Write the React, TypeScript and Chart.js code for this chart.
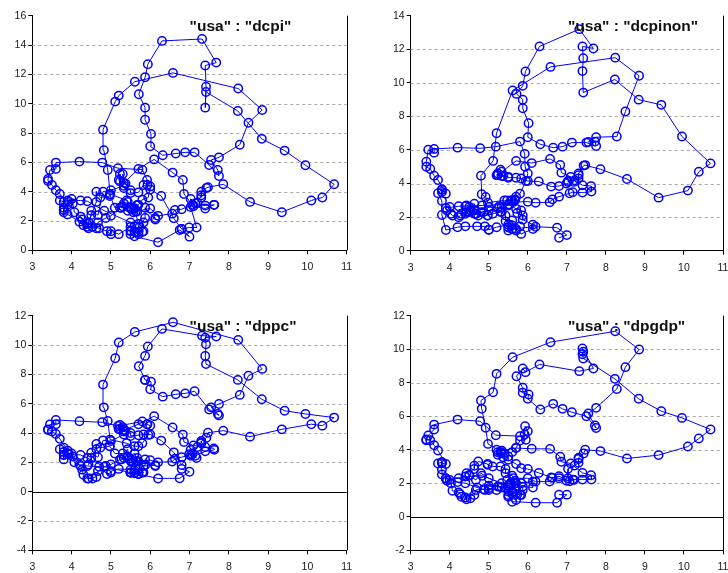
import React, { useEffect, useRef } from "react";
import { Chart, registerables } from "chart.js";

Chart.register(...registerables);
Chart.defaults.font.family = '"Liberation Sans", Arial, Helvetica, sans-serif';

// Quarterly observations, 1961Q1 .. 2008Q2 (unemployment rate, x axis)
const unemployment = [
  6.8, 7.0, 6.75, 6.2,
  5.6, 5.5, 5.6, 5.5,
  5.8, 5.7, 5.5, 5.6,
  5.5, 5.2, 5.0, 5.0,
  4.9, 4.7, 4.4, 4.2,
  3.9, 3.8, 3.8, 3.7,
  3.8, 3.8, 3.8, 3.9,
  3.7, 3.6, 3.5, 3.4,
  3.4, 3.45, 3.6, 3.6,
  4.2, 4.78, 5.18, 5.8,
  5.92, 5.93, 6.0, 5.95,
  5.8, 5.7, 5.6, 5.4,
  4.98, 4.92, 4.82, 4.8,
  5.11, 5.2, 5.61, 6.58,
  8.24, 8.85, 8.5, 8.28,
  7.75, 7.55, 7.72, 7.75,
  7.5, 7.13, 6.89, 6.65,
  6.32, 6.0, 6.02, 5.87,
  5.87, 5.71, 5.87, 5.94,
  6.3, 7.32, 7.68, 7.4,
  7.42, 7.4, 7.42, 8.23,
  8.84, 9.42, 9.95, 10.68,
  10.38, 10.1, 9.35, 8.54,
  7.86, 7.47, 7.43, 7.3,
  7.3, 7.3, 7.2, 7.03,
  7.03, 7.18, 6.99, 6.8,
  6.6, 6.28, 6.0, 5.83,
  5.7, 5.5, 5.5, 5.33,
  5.2, 5.23, 5.23, 5.37,
  5.3, 5.33, 5.7, 6.1,
  6.57, 6.83, 6.86, 7.1,
  7.4, 7.62, 7.63, 7.4,
  7.15, 7.07, 6.8, 6.63,
  6.56, 6.2, 6.0, 5.63,
  5.47, 5.67, 5.67, 5.57,
  5.53, 5.5, 5.27, 5.33,
  5.23, 5.0, 4.87, 4.67,
  4.63, 4.4, 4.53, 4.43,
  4.3, 4.27, 4.23, 4.07,
  4.03, 3.93, 4.0, 3.9,
  4.23, 4.4, 4.83, 5.5,
  5.7, 5.83, 5.73, 5.87,
  5.87, 6.13, 6.13, 5.83,
  5.7, 5.6, 5.43, 5.43,
  5.3, 5.1, 4.97, 4.97,
  4.73, 4.63, 4.63, 4.43,
  4.5, 4.5, 4.67, 4.8,
  5.0, 5.33,
];

const dcpi = [
  1.45, 0.93, 1.38, 0.55,
  0.95, 1.1, 1.25, 1.3,
  1.25, 1.1, 1.35, 1.65,
  1.6, 1.1, 1.3, 1.1,
  1.3, 1.5, 1.8, 1.95,
  2.45, 2.75, 3.3, 3.4,
  2.9, 2.6, 2.75, 3.1,
  3.84, 4.1, 4.45, 4.73,
  4.86, 5.48, 5.55, 5.98,
  6.05, 5.98, 5.6, 5.5,
  4.8, 4.45, 4.35, 3.6,
  3.45, 3.1, 2.85, 3.4,
  3.84, 5.48, 6.82, 8.23,
  10.14, 10.55, 11.5, 12.1,
  11.03, 9.57, 8.7, 7.2,
  6.34, 6.16, 5.48, 5.07,
  5.82, 6.68, 6.68, 6.6,
  6.48, 7.1, 7.94, 8.9,
  9.73, 10.64, 11.8, 12.69,
  14.28, 14.41, 12.8, 12.6,
  11.16, 9.73, 10.8, 9.5,
  7.6, 6.8, 5.8, 4.5,
  3.6, 3.4, 2.6, 3.3,
  4.5, 4.3, 4.25, 4.0,
  3.6, 3.75, 3.25, 3.5,
  2.95, 1.55, 1.55, 1.45,
  2.18, 3.7, 4.15, 4.45,
  3.95, 3.9, 4.1, 4.25,
  4.8, 5.2, 4.7, 4.55,
  5.2, 4.6, 5.55, 6.2,
  5.3, 4.8, 3.84, 3.0,
  2.85, 3.1, 3.1, 3.05,
  3.2, 3.1, 2.8, 2.75,
  2.5, 2.35, 2.85, 2.65,
  2.9, 3.1, 2.65, 2.6,
  2.8, 2.9, 2.9, 3.2,
  2.9, 2.35, 2.2, 1.9,
  1.5, 1.6, 1.6, 1.5,
  1.7, 2.1, 2.3, 2.6,
  3.2, 3.3, 3.5, 3.4,
  3.4, 3.35, 2.7, 1.9,
  1.25, 1.3, 1.6, 2.2,
  2.9, 2.1, 2.2, 1.9,
  1.8, 2.85, 2.7, 3.3,
  3.0, 2.9, 3.8, 3.7,
  3.6, 4.0, 3.3, 1.9,
  2.4, 2.7, 2.4, 4.0,
  4.1, 4.4,
];

const dcpinon = [
  0.77, 0.93, 1.37, 1.43,
  1.3, 1.2, 1.3, 1.4,
  1.45, 1.3, 1.4, 1.5,
  1.55, 1.4, 1.25, 1.25,
  1.45, 1.45, 1.45, 1.4,
  1.23, 2.13, 2.96, 3.42,
  3.66, 3.5, 3.62, 3.4,
  4.21, 4.47, 4.87, 5.0,
  5.3, 6.02, 5.84, 6.06,
  6.14, 6.1, 6.2, 6.5,
  5.77, 5.0, 4.6, 4.15,
  3.4, 3.22, 3.0, 3.0,
  2.86, 3.2, 3.36, 4.47,
  5.35, 7.0, 9.55, 10.95,
  11.5, 10.42, 8.29, 6.8,
  6.76, 6.48, 6.5, 6.24,
  6.44, 6.44, 6.2, 6.14,
  6.34, 6.76, 7.6, 8.49,
  9.0, 9.34, 9.82, 10.68,
  12.17, 13.2, 12.05, 12.17,
  11.47, 10.7, 9.42, 10.2,
  9.0, 8.69, 6.8, 5.2,
  4.7, 3.58, 3.16, 4.27,
  4.85, 5.1, 5.07, 4.6,
  4.5, 4.3, 4.2, 4.1,
  4.15, 4.1, 4.0, 3.85,
  3.82, 4.12, 4.15, 4.3,
  4.35, 4.35, 4.4, 4.45,
  4.5, 4.6, 4.5, 4.45,
  4.82, 4.7, 5.35, 5.22,
  5.47, 5.11, 4.65, 4.4,
  3.9, 3.85, 3.52, 3.46,
  3.48, 3.42, 3.22, 3.06,
  2.88, 2.86, 2.92, 2.9,
  3.0, 3.05, 3.0, 3.0,
  2.75, 2.7, 2.65, 2.6,
  2.55, 2.6, 2.3, 2.2,
  2.2, 2.2, 2.4, 2.3,
  2.2, 2.1, 2.0, 2.1,
  2.2, 2.4, 2.6, 2.55,
  2.65, 2.65, 2.7, 2.75,
  2.5, 2.4, 2.25, 2.1,
  1.85, 1.55, 1.3, 1.0,
  1.2, 1.8, 1.75, 2.1,
  2.3, 2.2, 2.1, 2.1,
  2.1, 2.4, 2.8, 2.7,
  2.6, 2.3, 2.2, 2.3,
  2.4, 2.3,
];

const dppc = [
  1.55, 1.36, 0.91, 0.9,
  1.25, 1.3, 1.3, 1.3,
  1.3, 1.2, 1.3, 1.45,
  1.5, 1.55, 1.4, 1.3,
  1.2, 1.7, 1.75, 1.85,
  2.6, 2.7, 3.0, 2.9,
  2.5, 2.2, 2.5, 2.8,
  3.6, 3.93, 4.1, 4.25,
  4.2, 4.59, 4.6, 4.89,
  4.8, 4.73, 4.48, 4.78,
  4.6, 4.6, 4.5, 3.87,
  3.3, 3.1, 3.1, 3.3,
  3.55, 4.82, 5.75, 7.3,
  9.1, 10.17, 10.89, 11.55,
  10.35, 8.37, 7.9, 6.6,
  5.98, 5.75, 5.3, 5.2,
  5.6, 6.85, 6.7, 6.64,
  6.48, 6.98, 7.5, 7.62,
  7.62, 8.55, 9.26, 9.9,
  11.1, 10.64, 10.58, 10.5,
  10.05, 9.26, 8.7, 7.62,
  6.3, 5.52, 5.3, 5.05,
  4.5, 4.6, 4.25, 3.75,
  4.16, 4.02, 3.68, 3.45,
  3.35, 3.3, 3.05, 2.85,
  2.45, 2.3, 2.55, 1.82,
  2.68, 3.48, 3.9, 3.9,
  3.85, 3.8, 4.0, 4.1,
  4.25, 4.55, 4.3, 4.15,
  4.4, 4.2, 4.6, 5.15,
  4.38, 3.89, 3.39, 3.15,
  3.05, 2.95, 2.85, 2.75,
  2.45, 2.55, 2.35, 2.25,
  2.05, 2.0, 2.15, 2.1,
  2.25, 2.3, 2.1, 2.0,
  2.0, 2.1, 2.2, 2.3,
  2.2, 1.85, 1.75, 1.4,
  1.0, 0.9, 0.9, 0.9,
  1.15, 1.5, 1.75, 2.0,
  2.4, 2.55, 2.6, 2.6,
  2.5, 2.3, 1.7, 1.3,
  1.2, 1.3, 1.6, 1.8,
  2.2, 1.75, 1.8, 1.75,
  2.05, 2.6, 2.4, 2.9,
  2.6, 2.6, 3.1, 3.1,
  3.0, 3.25, 2.9, 1.85,
  2.3, 2.65, 2.35, 3.5,
  3.45, 3.9,
];

const dpgdp = [
  1.32, 1.32, 0.84, 0.84,
  0.9, 1.3, 1.4, 1.6,
  1.3, 1.0, 1.2, 1.5,
  1.5, 1.6, 1.7, 1.6,
  1.6, 1.75, 2.0, 2.07,
  2.27, 2.52, 2.82, 3.18,
  3.26, 3.26, 3.2, 3.15,
  3.96, 4.27, 4.57, 4.61,
  4.57, 4.85, 5.21, 5.5,
  5.8, 5.7, 4.87, 4.81,
  4.91, 5.4, 5.1, 4.6,
  4.55, 4.12, 3.86, 3.75,
  4.35, 5.31, 6.44, 6.94,
  7.43, 8.53, 9.52, 10.42,
  11.07, 9.98, 8.93, 7.63,
  6.5, 6.16, 5.45, 5.3,
  6.0, 6.24, 6.44, 6.74,
  6.4, 7.04, 7.3, 7.4,
  7.7, 8.39, 8.85, 8.63,
  9.09, 8.69, 8.85, 10.05,
  9.85, 9.7, 9.45, 8.23,
  7.04, 6.3, 5.9, 5.21,
  4.67, 4.19, 3.68, 3.48,
  3.92, 4.0, 3.78, 3.52,
  3.45, 3.22, 3.06, 2.86,
  2.3, 2.2, 2.15, 2.3,
  2.35, 2.62, 2.85, 2.9,
  3.15, 3.4, 3.6, 3.85,
  4.0, 3.85, 3.7, 3.55,
  3.8, 3.95, 4.1, 4.06,
  4.05, 3.58, 3.28, 3.18,
  2.62, 2.48, 2.22, 2.22,
  2.22, 2.12, 2.42, 2.32,
  2.1, 2.1, 2.3, 2.3,
  2.2, 2.15, 2.0, 1.9,
  1.95, 1.85, 1.8, 1.75,
  1.8, 1.85, 1.65, 1.6,
  1.3, 1.15, 1.1, 1.05,
  1.2, 1.35, 1.45, 1.55,
  2.0, 2.15, 2.2, 2.3,
  2.3, 2.4, 2.45, 1.85,
  1.65, 1.3, 1.35, 1.6,
  1.8, 1.75, 2.1, 2.0,
  2.0, 2.45, 2.6, 2.85,
  3.0, 3.0, 3.1, 3.15,
  3.3, 3.05, 2.85, 2.6,
  2.5, 2.45, 2.2, 2.6,
  2.3, 2.0,
];

const xRange = [3, 11];
const titles = ['"usa" : "dcpi"', '"usa" : "dcpinon"', '"usa" : "dppc"', '"usa" : "dpgdp"'];
const yRanges = [
  [0, 16],
  [0, 14],
  [-4, 12],
  [-2, 12],
];
const seriesList = [dcpi, dcpinon, dppc, dpgdp];

// layout of the four panels (canvas box and plot area inside it)
const layouts = [
  { left: 0, top: 0, w: 364, h: 290, l: 32.3, t: 15.7, r: 346.7, b: 250.3 },
  { left: 364, top: 0, w: 380, h: 290, l: 46.7, t: 15.7, r: 359, b: 250.7 },
  { left: 0, top: 300, w: 364, h: 273, l: 32.3, t: 15.7, r: 346.7, b: 250.3 },
  { left: 364, top: 300, w: 380, h: 273, l: 46.7, t: 15.7, r: 359, b: 250.3 },
];

function Panel({ idx }: { idx: number }) {
  const ref = useRef<HTMLCanvasElement | null>(null);
  const lay = layouts[idx];
  useEffect(() => {
    const canvas = ref.current;
    if (!canvas) return;
    const values = seriesList[idx];
    const [yMin, yMax] = yRanges[idx];
    const points = unemployment.map((x, i) => ({ x, y: values[i] }));
    const title = titles[idx];

    const decor = {
      id: "decor" + idx,
      beforeDatasetsDraw(chart: any) {
        const { ctx, chartArea } = chart;
        const ys = chart.scales.y;
        ctx.save();
        for (const t of ys.ticks) {
          const v = t.value;
          if (v === yMin || v === yMax) continue;
          const py = Math.round(ys.getPixelForValue(v)) + 0.5;
          ctx.beginPath();
          if (v === 0) {
            ctx.setLineDash([]);
            ctx.strokeStyle = "#000";
          } else {
            ctx.setLineDash([3, 3]);
            ctx.strokeStyle = "#a8a8a8";
          }
          ctx.lineWidth = 1;
          ctx.moveTo(chartArea.left, py);
          ctx.lineTo(chartArea.right, py);
          ctx.stroke();
        }
        ctx.restore();
      },
      afterDraw(chart: any) {
        const { ctx, chartArea } = chart;
        ctx.save();
        ctx.strokeStyle = "#000";
        ctx.lineWidth = 1;
        ctx.setLineDash([]);
        const rx = Math.round(chartArea.right) + 0.5;
        ctx.beginPath();
        ctx.moveTo(rx, chartArea.top);
        ctx.lineTo(rx, chartArea.bottom);
        ctx.stroke();
        ctx.fillStyle = "#111";
        ctx.font = 'bold 15.5px "Liberation Sans", Arial, sans-serif';
        ctx.textAlign = "left";
        ctx.textBaseline = "alphabetic";
        ctx.fillText(title, chartArea.left + 157.3, 31);
        ctx.restore();
      },
    };

    const chart = new Chart(canvas, {
      type: "scatter",
      data: {
        datasets: [
          {
            data: points,
            showLine: true,
            borderColor: "#0000ff",
            borderWidth: 1,
            pointRadius: 4.2,
            pointHoverRadius: 4.2,
            pointBorderWidth: 1.5,
            pointBorderColor: "#0000ff",
            pointBackgroundColor: "rgba(0,0,0,0)",
            tension: 0,
          },
        ],
      },
      options: {
        responsive: false,
        animation: false,
        events: [],
        layout: { padding: { left: 0, top: lay.t, right: lay.w - lay.r, bottom: 0 } },
        plugins: {
          legend: { display: false },
          tooltip: { enabled: false },
          title: { display: false },
        },
        scales: {
          x: {
            type: "linear",
            min: xRange[0],
            max: xRange[1],
            ticks: { stepSize: 1, padding: 7, color: "#1a1a1a", font: { size: 10.5 } },
            grid: { drawOnChartArea: false, drawTicks: true, tickLength: 4, tickColor: "#000" },
            border: { display: true, color: "#000", width: 1 },
            afterFit: (s: any) => {
              s.height = lay.h - lay.b;
            },
          },
          y: {
            type: "linear",
            min: yMin,
            max: yMax,
            ticks: { stepSize: 2, padding: 2, color: "#1a1a1a", font: { size: 10.5 } },
            grid: { drawOnChartArea: false, drawTicks: true, tickLength: 4, tickColor: "#000" },
            border: { display: true, color: "#000", width: 1 },
            afterFit: (s: any) => {
              s.width = lay.l;
            },
          },
        },
      } as any,
      plugins: [decor],
    });
    return () => chart.destroy();
  }, [idx]);

  return (
    <canvas
      ref={ref}
      width={lay.w}
      height={lay.h}
      style={{ position: "absolute", left: lay.left, top: lay.top, width: lay.w, height: lay.h }}
    />
  );
}

export default function App() {
  return (
    <div
      style={{
        position: "fixed",
        left: 0,
        top: 0,
        width: 728,
        height: 573,
        overflow: "hidden",
        background: "#fff",
      }}
    >
      {[0, 1, 2, 3].map((i) => (
        <Panel key={i} idx={i} />
      ))}
    </div>
  );
}
